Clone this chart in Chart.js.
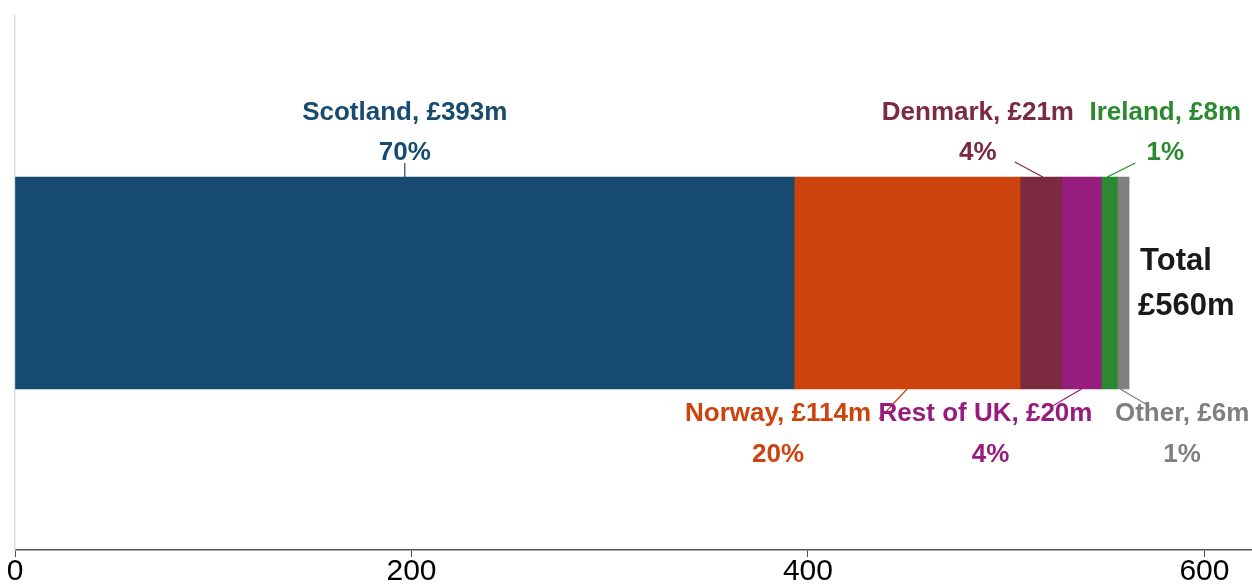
<!DOCTYPE html>
<html>
<head>
<meta charset="utf-8">
<script src="https://cdn.jsdelivr.net/npm/chart.js@4"></script>
<style>
  html, body { margin: 0; padding: 0; background: #fff; }
  #wrap { width: 1252px; height: 587px; }
</style>
</head>
<body>
<div id="wrap"><canvas id="exportChart" width="1252" height="587"></canvas></div>
<script>
// destinations, value in £m and share of total
const regions = ["Scotland", "Norway", "Denmark", "Rest of UK", "Ireland", "Other"];
const values  = [393, 114, 21, 20, 8, 6];
const shares  = [70, 20, 4, 4, 1, 1];
const totalValue = 560;
const xTicks = [0, 200, 400, 600];

const colours = ["#174b6f", "#cc430d", "#7b2a40", "#961c7e", "#2b8a30", "#7f7f7f"];

// where each callout sits: above/below the bar, text offset from segment centre,
// and where the leader line leaves the bar / ends
const callouts = [
  { side: "top",    dx: 0,    from: 0,   to: [0, -14] },
  { side: "bottom", dx: -129, from: 0,   to: [-28, 30] },
  { side: "top",    dx: -63,  from: 2,   to: [-28, -15] },
  { side: "bottom", dx: -96,  from: 0,   to: [-29, 17], dx2: -91 },
  { side: "top",    dx: 56,   from: -2,  to: [28, -14] },
  { side: "bottom", dx: 59,   from: -3,  to: [29, 17] }
];

const labelFont = "bold 26px 'Liberation Sans', Arial, sans-serif";
const totalFont = "bold 31px 'Liberation Sans', Arial, sans-serif";

const calloutPlugin = {
  id: "callouts",
  afterDatasetsDraw(chart){
    const ctx = chart.ctx;
    ctx.save();
    ctx.textAlign = "center";
    ctx.textBaseline = "middle";
    let barEnd = 0, barTop = 0, barBottom = 0;
    chart.data.datasets.forEach((ds, i) => {
      const bar = chart.getDatasetMeta(i).data[0];
      const { x, y, base, height } = bar.getProps(["x", "y", "base", "height"], true);
      const top = y - height / 2, bottom = y + height / 2;
      const cx = (x + base) / 2;
      barEnd = Math.max(barEnd, x); barTop = top; barBottom = bottom;
      const c = callouts[i];
      const sx = cx + c.from;
      const sy = c.side === "top" ? top : bottom;

      ctx.strokeStyle = colours[i];
      ctx.lineWidth = 1.2;
      ctx.beginPath();
      ctx.moveTo(sx, sy);
      ctx.lineTo(sx + c.to[0], sy + c.to[1]);
      ctx.stroke();

      ctx.fillStyle = colours[i];
      ctx.font = labelFont;
      const line1 = regions[i] + ", £" + values[i] + "m";
      const line2 = shares[i] + "%";
      const tx = cx + c.dx;
      const tx2 = cx + (c.dx2 !== undefined ? c.dx2 : c.dx);
      if (c.side === "top"){
        ctx.fillText(line1, tx, top - 64);
        ctx.fillText(line2, tx2, top - 24);
      } else {
        ctx.fillText(line1, tx, bottom + 25);
        ctx.fillText(line2, tx2, bottom + 66);
      }
    });

    // total beside the end of the bar
    const mid = (barTop + barBottom) / 2;
    ctx.fillStyle = "#1a1a1a";
    ctx.font = totalFont;
    ctx.textAlign = "left";
    ctx.fillText("Total", barEnd + 11, mid - 22);
    ctx.fillText("£" + totalValue + "m", barEnd + 9, mid + 23);
    ctx.restore();
  }
};

new Chart(document.getElementById("exportChart"), {
  type: "bar",
  data: {
    labels: ["Exports"],
    datasets: regions.map((r, i) => ({
      label: r,
      data: [values[i]],
      backgroundColor: colours[i],
      borderWidth: 0,
      barThickness: 212
    }))
  },
  options: {
    indexAxis: "y",
    responsive: false,
    animation: false,
    layout: { padding: { top: 16, left: 15, right: 0, bottom: 0 } },
    plugins: { legend: { display: false }, tooltip: { enabled: false } },
    scales: {
      x: {
        stacked: true,
        min: 0,
        max: 624,
        afterBuildTicks: axis => { axis.ticks = xTicks.map(v => ({ value: v })); },
        grid: { drawOnChartArea: false, drawTicks: true, tickLength: 7, color: "#555", lineWidth: 1 },
        border: { color: "#555", width: 1.5 },
        ticks: {
          color: "#000",
          padding: 0,
          maxRotation: 0,
          font: { family: "'Liberation Sans', Arial, sans-serif", size: 30, lineHeight: 1 }
        }
      },
      y: {
        stacked: true,
        ticks: { display: false },
        grid: { display: false, drawTicks: false },
        border: { color: "#dedede", width: 1.5 }
      }
    }
  },
  plugins: [calloutPlugin]
});
</script>
</body>
</html>
